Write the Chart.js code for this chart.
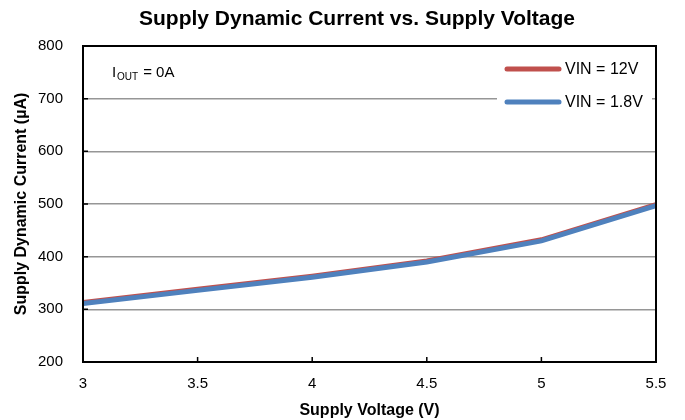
<!DOCTYPE html>
<html>
<head>
<meta charset="utf-8">
<script src="https://cdn.jsdelivr.net/npm/chart.js@4/dist/chart.umd.min.js"></script>
<style>
  html, body { margin: 0; padding: 0; background: #fff; }
  #wrap { width: 685px; height: 420px; }
</style>
</head>
<body>
<div id="wrap"><canvas id="chart" width="685" height="420"></canvas></div>
<script>
// Data
const voltages = [3, 3.5, 4, 4.5, 5, 5.5];
const vin12 = [313, 338, 363, 392, 432, 499];
const vin18 = [311, 336, 361, 390, 430, 497];
const xTicks = [3, 3.5, 4, 4.5, 5, 5.5];
const yTicks = [200, 300, 400, 500, 600, 700, 800];

const FONT = "'Liberation Sans', Arial, sans-serif";

// title, frame, inward ticks, note and legend
const decorations = {
    id: 'decorations',
    afterDatasetsDraw(chart) {
        const { ctx, chartArea: a, scales } = chart;
        ctx.save();
        // chart title
        ctx.fillStyle = '#000';
        ctx.font = 'bold 21px ' + FONT;
        ctx.textAlign = 'center';
        ctx.textBaseline = 'alphabetic';
        ctx.fillText('Supply Dynamic Current vs. Supply Voltage', 357, 25);
        ctx.textAlign = 'left';

        // legend box (white, covers grid)
        ctx.fillStyle = '#fff';
        ctx.fillRect(497, 55, 155, 60);

        // frame
        ctx.strokeStyle = '#000';
        ctx.lineWidth = 2;
        ctx.strokeRect(a.left, a.top, a.right - a.left, a.bottom - a.top);

        // inward ticks
        ctx.lineWidth = 1.5;
        ctx.beginPath();
        xTicks.forEach(v => {
            const x = scales.x.getPixelForValue(v);
            ctx.moveTo(x, a.bottom);
            ctx.lineTo(x, a.bottom - 5);
        });
        yTicks.forEach(v => {
            const y = scales.y.getPixelForValue(v);
            ctx.moveTo(a.left, y);
            ctx.lineTo(a.left + 5, y);
        });
        ctx.stroke();

        // I_OUT note
        ctx.fillStyle = '#000';
        ctx.font = '15px ' + FONT;
        ctx.fillText('I', 112, 77);
        ctx.font = '10px ' + FONT;
        ctx.fillText('OUT', 117, 80);
        ctx.font = '15px ' + FONT;
        ctx.fillText(' = 0A', 139, 77);

        // legend
        const rows = [69, 102];
        chart.data.datasets.forEach((ds, i) => {
            const y = rows[i];
            ctx.strokeStyle = ds.borderColor;
            ctx.lineWidth = 5;
            ctx.lineCap = 'round';
            ctx.beginPath();
            ctx.moveTo(507, y);
            ctx.lineTo(559, y);
            ctx.stroke();
            ctx.fillStyle = '#000';
            ctx.font = '16px ' + FONT;
            ctx.textBaseline = 'middle';
            ctx.fillText(ds.label, 565, y + 1);
        });
        ctx.restore();
    }
};

new Chart(document.getElementById('chart'), {
    type: 'line',
    data: {
        datasets: [
            {
                label: 'VIN = 12V',
                data: voltages.map((v, i) => ({ x: v, y: vin12[i] })),
                borderColor: '#C0504D',
                borderWidth: 5,
                pointRadius: 0,
                tension: 0,
                order: 2
            },
            {
                label: 'VIN = 1.8V',
                data: voltages.map((v, i) => ({ x: v, y: vin18[i] })),
                borderColor: '#4F81BD',
                borderWidth: 5,
                pointRadius: 0,
                tension: 0,
                order: 1
            }
        ]
    },
    options: {
        responsive: false,
        animation: false,
        layout: { padding: { top: 46, right: 29, bottom: 0, left: 0 } },
        plugins: {
            legend: { display: false },
            tooltip: { enabled: false },
            title: { display: false }
        },
        scales: {
            x: {
                type: 'linear',
                min: 3,
                max: 5.5,
                afterBuildTicks: s => { s.ticks = xTicks.map(v => ({ value: v })); },
                afterFit: s => { s.height = 58; },
                grid: { display: false, drawTicks: false },
                border: { display: false },
                ticks: {
                    color: '#000',
                    font: { family: FONT, size: 15 },
                    padding: 13,
                    maxRotation: 0,
                    callback: v => String(v)
                },
                title: {
                    display: true,
                    text: 'Supply Voltage (V)',
                    color: '#000',
                    font: { family: FONT, size: 16, weight: 'bold' },
                    padding: { top: 5, bottom: 0 }
                }
            },
            y: {
                min: 200,
                max: 800,
                afterBuildTicks: s => { s.ticks = yTicks.map(v => ({ value: v })); },
                afterFit: s => { s.width = 83; },
                grid: { color: '#969696', lineWidth: 1.5, drawTicks: false },
                border: { display: false },
                ticks: {
                    color: '#000',
                    font: { family: FONT, size: 15 },
                    padding: 20
                },
                title: {
                    display: true,
                    text: 'Supply Dynamic Current (\u00B5A)',
                    color: '#000',
                    font: { family: FONT, size: 16, weight: 'bold' },
                    padding: { top: 12, bottom: 0 }
                }
            }
        }
    },
    plugins: [decorations]
});
</script>
</body>
</html>
